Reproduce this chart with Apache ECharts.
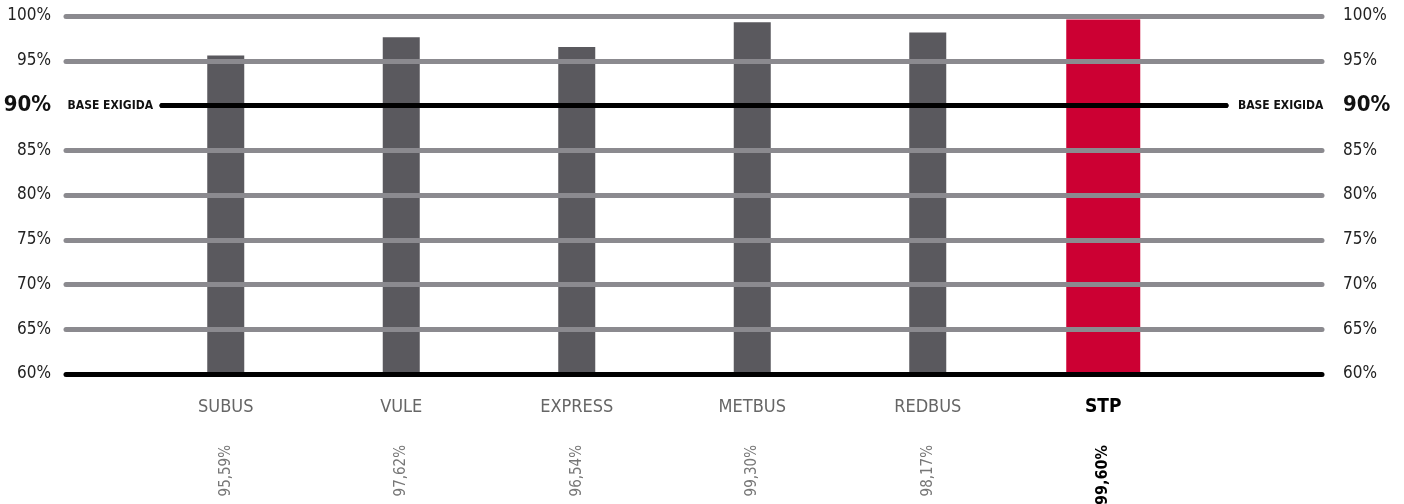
<!DOCTYPE html>
<html><head><meta charset="utf-8">
<script src="https://cdn.jsdelivr.net/npm/echarts@6/dist/echarts.min.js"></script>
<style>html,body{margin:0;padding:0;background:#fff}#c{width:1404px;height:504px}</style>
</head><body><div id="c"></div>
<script>
const categories = ['SUBUS','VULE','EXPRESS','METBUS','REDBUS','STP'];
const values = [95.59, 97.62, 96.54, 99.30, 98.17, 99.60];
const highlight = 'STP';
const yTicks = [60,65,70,75,80,85,90,95,100];
const baseValue = 90;
const baseLabel = 'BASE EXIGIDA';

const FONT = '"Liberation Sans Narrow","DejaVu Sans Condensed","Open Sans",sans-serif';
const GRAY = '#8b8a8f';
const BAR = '#5a595e';
const RED = '#cc0033';

const splitColors = yTicks.map(v => v === 60 ? '#000' : (v === baseValue ? 'rgba(0,0,0,0)' : GRAY));
const fmtPct = v => v.toFixed(2).replace('.', ',') + '%';

const yLabel = (align) => ({
  fontFamily: FONT, fontSize: 17, color: '#222', align: align,
  formatter: v => v === baseValue ? '{b|' + v + '%}' : v + '%',
  rich: { b: { fontFamily: FONT, fontSize: 22, fontWeight: 'bold', color: '#111' } }
});

const gridBase = { top: 16, bottom: 130, containLabel: false, outerBoundsMode: 'none' };

const option = {
  animation: false,
  grid: [
    Object.assign({ left: 66, right: 82 }, gridBase),
    Object.assign({ left: 138, right: 213 }, gridBase),
    Object.assign({ left: 162, right: 178 }, gridBase)
  ],
  xAxis: [
    { gridIndex: 0, type: 'value', min: 0, max: 1, show: false },
    { gridIndex: 1, type: 'category', data: categories, position: 'bottom',
      axisLine: { show: false }, axisTick: { show: false }, splitLine: { show: false },
      axisLabel: { margin: 24, fontFamily: FONT, fontSize: 18, color: '#666',
        formatter: (v) => v === highlight ? '{h|' + v + '}' : v,
        rich: { h: { fontFamily: FONT, fontSize: 19, fontWeight: 'bold', color: '#000' } } } },
    { gridIndex: 1, type: 'category', data: categories, position: 'bottom',
      axisLine: { show: false }, axisTick: { show: false }, splitLine: { show: false },
      axisLabel: { margin: 71, rotate: 90, fontFamily: FONT, fontSize: 15, color: '#777',
        formatter: (v, i) => v === highlight ? '{h|' + fmtPct(values[i]) + '}' : fmtPct(values[i]),
        rich: { h: { fontFamily: FONT, fontSize: 16, fontWeight: 'bold', color: '#000' } } } },
    { gridIndex: 2, type: 'value', min: 0, max: 1, show: false }
  ],
  yAxis: [
    { gridIndex: 0, type: 'value', min: 60, max: 100, interval: 5, position: 'left', z: 5,
      axisLine: { show: false }, axisTick: { show: false },
      axisLabel: Object.assign({ margin: 15 }, yLabel('right')),
      splitLine: { show: true, lineStyle: { color: splitColors, width: 5, cap: 'round' } } },
    { gridIndex: 0, type: 'value', min: 60, max: 100, interval: 5, position: 'right',
      axisLine: { show: false }, axisTick: { show: false }, splitLine: { show: false },
      axisLabel: Object.assign({ margin: 21 }, yLabel('left')) },
    { gridIndex: 1, type: 'value', min: 60, max: 100, interval: 5, show: false },
    { gridIndex: 2, type: 'value', min: 60, max: 100, interval: 5, show: false }
  ],
  series: [
    { type: 'bar', xAxisIndex: 1, yAxisIndex: 2, barWidth: 37, z: 2,
      itemStyle: { color: BAR },
      data: values.map((v, i) => categories[i] === highlight ? '-' : v) },
    { type: 'bar', xAxisIndex: 2, yAxisIndex: 2, barWidth: 74, z: 2,
      itemStyle: { color: RED },
      data: values.map((v, i) => categories[i] === highlight ? v : '-') },
    { type: 'line', xAxisIndex: 3, yAxisIndex: 3, data: [], z: 6,
      markLine: {
        silent: true, symbol: ['none', 'none'], animation: false,
        lineStyle: { color: '#000', width: 5, type: 'solid', cap: 'round' },
        data: [
          { yAxis: baseValue, label: { show: true, position: 'start', distance: 9, formatter: baseLabel,
              fontFamily: FONT, fontSize: 12, fontWeight: 'bold', color: '#111' } },
          { yAxis: baseValue, label: { show: true, position: 'end', distance: 12, formatter: baseLabel,
              fontFamily: FONT, fontSize: 12, fontWeight: 'bold', color: '#111' } }
        ]
      } }
  ]
};
echarts.init(document.getElementById('c'), null, { renderer: 'canvas' }).setOption(option);
</script></body></html>
